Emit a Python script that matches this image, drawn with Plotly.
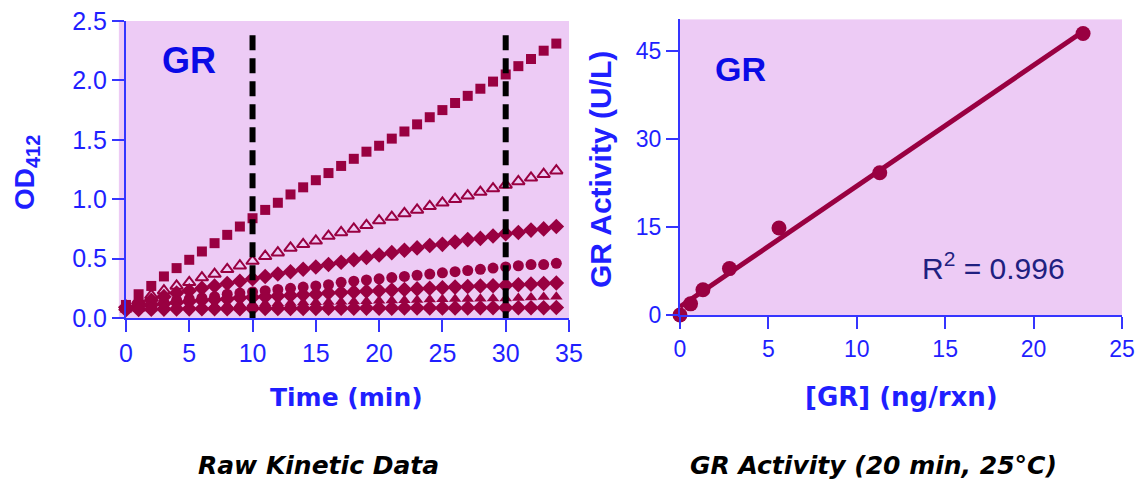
import numpy as np
import plotly.graph_objects as go

# ---------------- data ----------------
time_min = list(range(0, 35))

od_s1 = [0.11, 0.20, 0.27, 0.35, 0.42, 0.49, 0.56, 0.63, 0.70, 0.77, 0.84,
         0.91, 0.97, 1.04, 1.10, 1.16, 1.22, 1.28, 1.34, 1.40, 1.45, 1.51,
         1.57, 1.63, 1.69, 1.75, 1.81, 1.87, 1.93, 1.99, 2.05, 2.12, 2.18,
         2.25, 2.31]
od_s2 = [0.10, 0.15, 0.19, 0.23, 0.27, 0.30, 0.34, 0.37, 0.41, 0.44, 0.48,
         0.52, 0.55, 0.59, 0.62, 0.65, 0.69, 0.72, 0.75, 0.78, 0.82, 0.85,
         0.88, 0.91, 0.94, 0.97, 1.00, 1.03, 1.06, 1.09, 1.12, 1.15, 1.18,
         1.21, 1.24]
od_s3 = [0.09, 0.12, 0.15, 0.18, 0.21, 0.23, 0.25, 0.27, 0.29, 0.31, 0.33,
         0.35, 0.37, 0.39, 0.41, 0.43, 0.45, 0.47, 0.49, 0.51, 0.53, 0.55,
         0.57, 0.59, 0.61, 0.62, 0.64, 0.66, 0.67, 0.69, 0.71, 0.72, 0.74,
         0.75, 0.77]
od_s4 = [0.08, 0.10, 0.12, 0.13, 0.15, 0.16, 0.17, 0.18, 0.20, 0.21, 0.22,
         0.23, 0.24, 0.25, 0.26, 0.27, 0.28, 0.30, 0.31, 0.32, 0.33, 0.34,
         0.35, 0.36, 0.37, 0.38, 0.39, 0.40, 0.41, 0.42, 0.43, 0.44, 0.45,
         0.45, 0.46]
od_s5 = [0.09, 0.10, 0.11, 0.12, 0.13, 0.14, 0.15, 0.155, 0.16, 0.17, 0.175,
         0.18, 0.185, 0.19, 0.195, 0.20, 0.21, 0.215, 0.22, 0.225, 0.23, 0.235,
         0.24, 0.245, 0.25, 0.255, 0.26, 0.265, 0.27, 0.272, 0.275, 0.28, 0.285,
         0.29, 0.295]
od_s6 = [0.07, 0.075, 0.08, 0.085, 0.09, 0.095, 0.10, 0.105, 0.11, 0.115, 0.12,
         0.122, 0.125, 0.127, 0.13, 0.132, 0.135, 0.137, 0.14, 0.142, 0.145, 0.147,
         0.15, 0.152, 0.155, 0.157, 0.16, 0.161, 0.162, 0.164, 0.165, 0.168, 0.172,
         0.176, 0.18]
od_s7 = [0.07, 0.072, 0.074, 0.075, 0.076, 0.077, 0.078, 0.078, 0.079, 0.079, 0.08,
         0.08, 0.08, 0.081, 0.081, 0.081, 0.082, 0.082, 0.082, 0.083, 0.083, 0.083,
         0.084, 0.084, 0.084, 0.085, 0.085, 0.085, 0.086, 0.086, 0.086, 0.087, 0.087,
         0.087, 0.088]

series_od = [od_s1, od_s2, od_s3, od_s4, od_s5, od_s6, od_s7]
series_symbols = ["square", "triangle-up-open", "diamond", "circle",
                  "diamond", "triangle-up", "diamond"]
series_sizes = [10, 11, 12, 11, 12, 11, 12]

read_times = [10, 30]
dash_top = 2.38

gr_ng = [0, 0.6, 1.3, 2.8, 5.6, 11.3, 22.8]
gr_activity = [0, 1.9, 4.3, 7.9, 14.8, 24.2, 47.9]
r2_text = "R<sup>2</sup> = 0.996"

x_ticks_left = [0, 5, 10, 15, 20, 25, 30, 35]
y_ticks_left = [0.0, 0.5, 1.0, 1.5, 2.0, 2.5]
x_ticks_right = [0, 5, 10, 15, 20, 25]
y_ticks_right = [0, 15, 30, 45]

# ---------------- style ----------------
FONT = "Liberation Sans, Arial, sans-serif"
WIDE = "DejaVu Sans, Verdana, sans-serif"
BLUE = "#1F1FFF"
AXBLUE = "#3535FF"
MARK = "#990041"
BG = "#EDCBF5"

fig = go.Figure()

# kinetic series
for od, sym, sz in zip(series_od, series_symbols, series_sizes):
    is_open = sym.endswith("open")
    fig.add_trace(go.Scatter(
        x=time_min, y=od, mode="markers", xaxis="x", yaxis="y",
        marker=dict(symbol=sym, size=sz, color=MARK,
                    line=dict(width=2 if is_open else 0, color=MARK)),
        cliponaxis=False, showlegend=False, hoverinfo="skip"))

# dashed read-time lines (drawn top-down so the pattern starts at the top)
for t in read_times:
    fig.add_trace(go.Scatter(
        x=[t, t], y=[dash_top, 0], mode="lines", xaxis="x", yaxis="y",
        line=dict(color="black", width=6, dash="15px,8px"),
        showlegend=False, hoverinfo="skip"))

# regression fit for activity plot
slope, intercept = np.polyfit(gr_ng, gr_activity, 1)
fit_x = [0, max(gr_ng)]
fit_y = [intercept + slope * v for v in fit_x]
fig.add_trace(go.Scatter(
    x=fit_x, y=fit_y, mode="lines", xaxis="x2", yaxis="y2",
    line=dict(color=MARK, width=5), cliponaxis=False,
    showlegend=False, hoverinfo="skip"))
fig.add_trace(go.Scatter(
    x=gr_ng, y=gr_activity, mode="markers", xaxis="x2", yaxis="y2",
    marker=dict(symbol="circle", size=15, color=MARK),
    cliponaxis=False, showlegend=False, hoverinfo="skip"))

axis_common = dict(showline=True, linecolor=AXBLUE, linewidth=2,
                   ticks="outside", ticklen=12, tickwidth=2, tickcolor=AXBLUE,
                   showgrid=False, zeroline=False, automargin=False)

fig.update_layout(
    width=1143, height=485,
    margin=dict(l=0, r=0, t=0, b=0, pad=0, autoexpand=False),
    paper_bgcolor="white", plot_bgcolor=BG,
    font=dict(family=FONT, color=BLUE),
    xaxis=dict(domain=[0.1102, 0.4978], range=[0, 35], anchor="y",
               tickvals=x_ticks_left, tickfont=dict(size=25, color=BLUE),
               **axis_common),
    yaxis=dict(domain=[0.3443, 0.9567], range=[0, 2.5], anchor="x",
               tickvals=y_ticks_left, tickformat=".1f",
               tickfont=dict(size=25, color=BLUE), **axis_common),
    xaxis2=dict(domain=[0.5949, 0.9816], range=[0, 25], anchor="y2",
                tickvals=x_ticks_right, tickfont=dict(size=23, color=BLUE),
                **axis_common),
    yaxis2=dict(domain=[0.3505, 0.960], range=[0, 50.3], anchor="x2",
                tickvals=y_ticks_right, tickfont=dict(size=23, color=BLUE),
                **axis_common),
)

# small background extension left of the y axis (markers hang over)
fig.add_shape(type="rect", xref="x domain", yref="y domain",
              x0=-0.016, x1=0, y0=0, y1=1, fillcolor=BG,
              line=dict(width=0), layer="below")

def ann(text, x, y, size, color=BLUE, bold=True, italic=False, angle=0,
        family=FONT):
    t = text
    if bold:
        t = "<b>" + t + "</b>"
    if italic:
        t = "<i>" + t + "</i>"
    fig.add_annotation(text=t, x=x, y=y, xref="paper", yref="paper",
                       xanchor="center", yanchor="middle", showarrow=False,
                       textangle=angle,
                       font=dict(family=family, size=size, color=color))

H = 485.0
W = 1143.0
ann("GR", 189 / W, 1 - 60 / H, 36, color="#0A0AE6")
ann("GR", 740 / W, 1 - 69 / H, 34, color="#0A0AE6")
ann(r2_text, 993 / W, 1 - 266 / H, 30, color="#202080", bold=False)
ann("Time (min)", 347 / W, 1 - 397 / H, 25, family=WIDE)
ann("[GR] (ng/rxn)", 901 / W, 1 - 397 / H, 26, family=WIDE)
ann("OD<sub><span style='font-size:20px'>412</span></sub>", 26 / W,
    1 - 173 / H, 28, angle=-90)
ann("GR Activity (U/L)", 600 / W, 1 - 170 / H, 30, angle=-90)
ann("Raw Kinetic Data", 318 / W, 1 - 465 / H, 25, color="black",
    italic=True, family=WIDE)
ann("GR Activity (20 min, 25°C)", 873 / W, 1 - 465 / H, 25, color="black",
    italic=True, family=WIDE)

fig.write_html("out.html", config={"displayModeBar": False},
               post_script="document.body.style.margin='0';"
                           "document.body.style.overflow='hidden';")
